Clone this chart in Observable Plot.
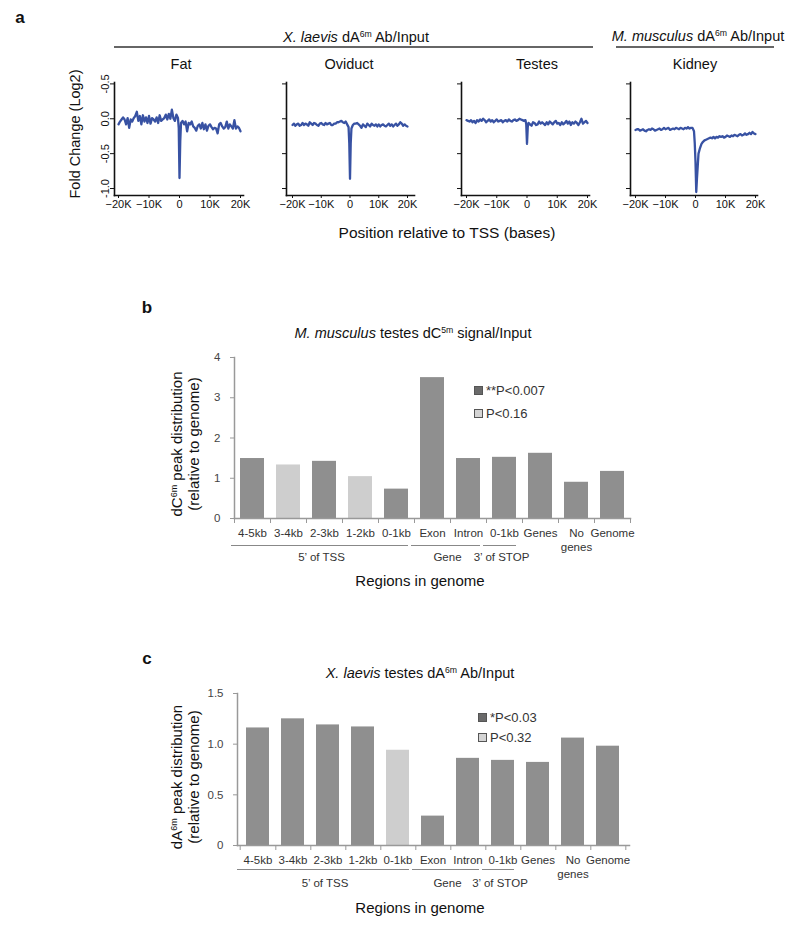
<!DOCTYPE html>
<html><head><meta charset="utf-8">
<script src="https://cdn.jsdelivr.net/npm/d3@7"></script>
<script src="https://cdn.jsdelivr.net/npm/@observablehq/plot@0.6"></script>
<style>
body{margin:0;background:#fff;font-family:Arial,"Liberation Sans",sans-serif;}
#page{position:relative;width:800px;height:929px;overflow:hidden;background:#fff;}
.t{position:absolute;white-space:nowrap;transform:translate(-50%,-50%);color:#111;line-height:1;}
.hl{position:absolute;height:1.5px;background:#666;}
.gl{position:absolute;height:1px;background:#888;}
sup{font-size:0.6em;vertical-align:0.55em;line-height:0;}
.rot{position:absolute;white-space:nowrap;transform:translate(-50%,-50%) rotate(-90deg);text-align:center;color:#111;}
.sq{position:absolute;width:7px;height:7px;}
</style></head><body><div id="page"></div>
<script>
// ---------- Panel a data (position in kb relative to TSS) ----------
const positions = [
  -20,-19.5,-19,-18.5,-18,-17.5,-17,-16.5,-16,-15.5,-15,-14.5,-14,-13.5,-13,-12.5,-12,-11.5,-11,-10.5,
  -10,-9.5,-9,-8.5,-8,-7.5,-7,-6.5,-6,-5.5,-5,-4.5,-4,-3.5,-3,-2.5,-2,-1.5,-1,-0.5,
  -0.25,0,0.25,
  0.5,1,1.5,2,2.5,3,3.5,4,4.5,5,5.5,6,6.5,7,7.5,8,8.5,9,9.5,10,
  10.5,11,11.5,12,12.5,13,13.5,14,14.5,15,15.5,16,16.5,17,17.5,18,18.5,19,19.5,20];
const fatValues = [
  -0.08,-0.04,-0.01,0.02,-0.01,-0.08,0.01,-0.13,-0.01,-0.04,
  0.01,0.04,0.10,-0.03,0.04,-0.08,0.05,-0.04,0.02,-0.06,
  0.04,-0.07,0.01,-0.01,-0.04,0.02,-0.06,0.05,-0.03,-0.01,
  0.01,0.06,-0.01,0.07,0.00,0.13,0.01,-0.03,0.06,0.01,
  -0.13,-0.85,-0.32,
  -0.06,-0.03,-0.08,-0.04,-0.18,-0.06,-0.08,-0.04,-0.11,-0.13,
  -0.17,-0.10,-0.08,-0.14,-0.06,-0.15,-0.08,-0.17,-0.10,-0.08,
  -0.12,-0.15,-0.13,-0.14,-0.21,-0.08,-0.06,-0.11,-0.14,-0.12,
  -0.04,-0.14,-0.08,-0.11,-0.14,-0.02,-0.14,-0.11,-0.13,-0.18];
const oviductValues = [
  -0.09,-0.07,-0.10,-0.08,-0.07,-0.10,-0.09,-0.06,-0.09,-0.07,
  -0.08,-0.10,-0.05,-0.07,-0.09,-0.06,-0.07,-0.09,-0.10,-0.07,
  -0.06,-0.08,-0.09,-0.06,-0.08,-0.07,-0.06,-0.09,-0.09,-0.07,
  -0.07,-0.05,-0.05,-0.04,-0.03,-0.05,-0.06,-0.04,-0.08,-0.12,
  -0.35,-0.86,-0.35,
  -0.14,-0.09,-0.07,-0.07,-0.06,-0.08,-0.10,-0.13,-0.08,-0.10,
  -0.12,-0.07,-0.09,-0.11,-0.07,-0.09,-0.10,-0.08,-0.11,-0.08,
  -0.11,-0.09,-0.08,-0.10,-0.11,-0.09,-0.07,-0.10,-0.08,-0.11,
  -0.09,-0.07,-0.10,-0.08,-0.05,-0.07,-0.10,-0.08,-0.10,-0.11];
const testesValues = [
  -0.02,-0.03,-0.04,-0.02,-0.05,-0.03,-0.06,-0.02,-0.04,-0.01,
  -0.03,0.00,-0.02,-0.05,-0.03,-0.01,-0.04,-0.02,-0.05,-0.03,
  -0.01,-0.04,-0.03,-0.02,-0.05,-0.03,-0.02,-0.04,-0.01,-0.03,
  -0.04,-0.02,-0.01,-0.03,-0.02,0.00,-0.01,-0.02,-0.03,-0.02,
  -0.08,-0.36,-0.12,
  -0.06,-0.08,-0.10,-0.05,-0.06,-0.09,-0.08,-0.04,-0.07,-0.05,
  -0.07,-0.09,-0.05,-0.08,-0.04,-0.06,-0.08,-0.05,-0.03,-0.07,
  -0.06,-0.09,-0.05,-0.08,-0.06,-0.03,-0.07,-0.04,-0.09,-0.05,
  -0.07,-0.04,-0.06,-0.09,-0.05,0.00,-0.07,-0.05,-0.03,-0.06];
const kidneyValues = [
  -0.16,-0.15,-0.15,-0.17,-0.16,-0.15,-0.17,-0.18,-0.16,-0.15,
  -0.16,-0.14,-0.15,-0.17,-0.16,-0.15,-0.14,-0.16,-0.15,-0.13,
  -0.15,-0.14,-0.13,-0.16,-0.15,-0.14,-0.15,-0.13,-0.14,-0.15,
  -0.13,-0.14,-0.15,-0.13,-0.14,-0.12,-0.14,-0.13,-0.13,-0.18,
  -0.35,-0.62,-1.05,
  -0.85,-0.50,-0.42,-0.36,-0.33,-0.31,-0.30,-0.29,-0.28,-0.27,
  -0.28,-0.26,-0.28,-0.26,-0.27,-0.25,-0.26,-0.25,-0.27,-0.26,
  -0.24,-0.25,-0.26,-0.24,-0.25,-0.23,-0.24,-0.25,-0.23,-0.22,
  -0.24,-0.23,-0.21,-0.23,-0.22,-0.20,-0.22,-0.19,-0.21,-0.22];
const aYTicks = [0.5, 0, -0.5, -1.0];
const aYTickLabels = ["-0.5", "0.0", "-0.5", "-1.0"];
const aXTicks = [-20, -10, 0, 10, 20];
const aXTickLabels = ["\u221220K", "\u221210K", "0", "10K", "20K"];
const tissues = ["Fat", "Oviduct", "Testes", "Kidney"];

// ---------- Panels b, c data ----------
const regionLabels = ["4-5kb","3-4kb","2-3kb","1-2kb","0-1kb","Exon","Intron","0-1kb","Genes","No genes","Genome"];
const bValues = [1.49,1.33,1.42,1.04,0.73,3.5,1.49,1.52,1.62,0.9,1.17];
const bLevels = ["s","ns","s","ns","s","s","s","s","s","s","s"];
const bYTicks = [0,1,2,3,4];
const cValues = [1.16,1.25,1.19,1.17,0.94,0.29,0.86,0.84,0.82,1.06,0.98];
const cLevels = ["s","s","s","s","ns","s","s","s","s","s","s"];
const cYTicks = [0,0.5,1.0,1.5];
const groups = [
  {label:"5\u2019 of TSS", from:0, to:4},
  {label:"Gene", from:5, to:6},
  {label:"3\u2019 of STOP", from:7, to:7}
];
const bLegend = ["**P<0.007", "P<0.16"];
const cLegend = ["*P<0.03", "P<0.32"];

const FONT = "Arial, 'Liberation Sans', sans-serif";
const page = document.getElementById("page");

function txt(html, x, y, size, extra = "") {
  const d = document.createElement("div");
  d.className = "t";
  d.innerHTML = html;
  d.style.cssText += `left:${x}px;top:${y}px;font-size:${size}px;${extra}`;
  page.appendChild(d);
  return d;
}
function box(cls, x, y, w, extra = "") {
  const d = document.createElement("div");
  d.className = cls;
  d.style.cssText += `left:${x}px;top:${y}px;${w != null ? `width:${w}px;` : ""}${extra}`;
  page.appendChild(d);
  return d;
}
function place(svg, left, top) {
  svg.style.position = "absolute";
  svg.style.left = left + "px";
  svg.style.top = top + "px";
  svg.style.overflow = "visible";
  page.appendChild(svg);
}

// ---------- Panel a ----------
txt("a", 20, 17, 17, "font-weight:bold;");
txt("<i>X. laevis</i> dA<sup>6m</sup> Ab/Input", 356, 37, 14.5);
box("hl", 114, 46, 479);
txt("<i>M. musculus</i> dA<sup>6m</sup> Ab/Input", 698, 36, 14.5);
box("hl", 616, 46, 158);

const aLayouts = [
  {axisX:114, xm20:118, x20:240, axisEnd:243, title:181},
  {axisX:286, xm20:292, x20:407, axisEnd:414, title:349},
  {axisX:461, xm20:466, x20:587, axisEnd:589, title:537},
  {axisX:630, xm20:635, x20:755, axisEnd:757, title:695}
];
const aSeries = [fatValues, oviductValues, testesValues, kidneyValues];

aSeries.forEach((vals, k) => {
  const L = aLayouts[k];
  const left = L.axisX - 54;
  const width = L.axisEnd - left + 6;
  const pts = positions.map((p, i) => [p, vals[i]]);
  const marks = [
    Plot.frame({anchor:"left", stroke:"#111", strokeWidth:1.6}),
    Plot.frame({anchor:"bottom", stroke:"#111", strokeWidth:1.6}),
    Plot.axisY({ticks: aYTicks, tickSize: 4, tickFormat: () => "", stroke:"#111", label:null}),
    Plot.axisX({ticks: aXTicks, tickSize: 3, tickPadding: 2, tickFormat: d => aXTickLabels[aXTicks.indexOf(d)], stroke:"#111", label:null, fontSize: 11}),
    Plot.line(pts, {stroke:"#3852a3", strokeWidth:2.3, strokeLinejoin:"round"})
  ];
  if (k === 0) {
    marks.push(Plot.text(aYTicks, {y: d => d, text: (d, i) => aYTickLabels[i], frameAnchor:"left",
      rotate:-90, textAnchor:"middle", lineAnchor:"bottom", dx:-6, fontSize:11, fill:"#111"}));
  }
  const chart = Plot.plot({
    width, height:150, marginLeft:54, marginRight:6, marginTop:12, marginBottom:25,
    x: {domain:[-20, 20], insetLeft: L.xm20 - L.axisX, insetRight: L.axisEnd - L.x20},
    y: {domain:[-1.1, 0.52]},
    style: {fontFamily: FONT, fontSize:"11px", color:"#111", background:"transparent"},
    marks
  });
  place(chart, left, 70);
  txt(tissues[k], L.title, 64, 14.5);
});
const ylA = document.createElement("div");
ylA.className = "rot";
ylA.style.cssText += "left:75px;top:134px;font-size:14.5px;";
ylA.textContent = "Fold Change (Log2)";
page.appendChild(ylA);
txt("Position relative to TSS (bases)", 447, 233, 15.5);

// ---------- Panels b and c ----------
function barPanel(opts) {
  const {values, levels, yTicks, yFmt, yMax, left, top, width, height, marginLeft, marginTop, marginBottom} = opts;
  const marginRight = 10;
  const step = (width - marginLeft - marginRight) / regionLabels.length;
  const data = values.map((v, i) => ({i, v, level: levels[i]}));
  const idx = d3.range(regionLabels.length);
  const chart = Plot.plot({
    width, height, marginLeft, marginRight, marginTop, marginBottom,
    style: {fontFamily: FONT, fontSize:"11.5px", color:"#333", background:"transparent"},
    x: {type:"band", domain: idx, paddingInner:0.33, paddingOuter:0.165},
    y: {domain:[0, yMax]},
    marks: [
      Plot.barY(data, {x:"i", y:"v", fill: d => d.level === "ns" ? "#cecece" : "#8f8f8f"}),
      Plot.frame({anchor:"bottom", stroke:"#999", strokeWidth:1.5}),
      Plot.frame({anchor:"left", stroke:"#999", strokeWidth:1.5}),
      Plot.axisY({ticks: yTicks, tickFormat: yFmt, tickSize:4, tickPadding:10, stroke:"#999", fill:"#444", label:null, fontSize:11.5}),
      Plot.axisX({tickSize:0, tickPadding:9, tickFormat: i => regionLabels[i].replace("No genes", "No\ngenes"), label:null, lineHeight:1.2, fill:"#333"}),
      Plot.axisX({tickSize:5, tickFormat: () => "", dx: step/2, stroke:"#999", label:null}),
      Plot.axisX({ticks:[0], tickSize:5, tickFormat: () => "", dx: -step/2, stroke:"#999", label:null})
    ]
  });
  place(chart, left, top);
  // group annotations under the categories, positioned from the x scale
  const sx = chart.scale("x");
  const bw = sx.bandwidth;
  const pad = (step - bw) / 2;
  groups.forEach(g => {
    const s = left + sx.apply(g.from) - pad;
    const e = left + sx.apply(g.to) + bw + pad;
    const x1 = s - 3, x2 = e - 6;
    box("gl", x1, opts.groupLineY, x2 - x1);
    txt(g.label, (x1 + x2) / 2 + 2, opts.groupLabelY, 11.5, "color:#333;");
  });
  return chart;
}
function legend(items, sqX, y1, y2) {
  const ys = [y1, y2];
  const fills = ["#6a6a6a", "#d4d4d4"];
  items.forEach((t, i) => {
    box("sq", sqX, ys[i] - 4, null, `background:${fills[i]};border:1px solid #555;`);
    const d = txt(t, 0, ys[i], 13, "color:#333;transform:translate(0,-50%);");
    d.style.left = (sqX + 12) + "px";
  });
}
function yLabel2(line1, line2, x, y) {
  const d = document.createElement("div");
  d.className = "rot";
  d.style.cssText += `left:${x}px;top:${y}px;font-size:15px;line-height:16.5px;`;
  d.innerHTML = line1 + "<br>" + line2;
  page.appendChild(d);
}

// Panel b
txt("b", 147, 307, 17, "font-weight:bold;");
txt("<i>M. musculus</i> testes dC<sup>5m</sup> signal/Input", 413, 333, 14.5);
barPanel({values:bValues, levels:bLevels, yTicks:bYTicks, yFmt: d => String(d), yMax:4,
  left:140, top:345, width:500, height:215, marginLeft:94, marginTop:12, marginBottom:42,
  groupLineY:545, groupLabelY:558});
legend(bLegend, 474, 390, 413);
yLabel2("dC<sup>6m</sup> peak distribution", "(relative to genome)", 185, 444);
txt("Regions in genome", 420, 580, 15);

// Panel c
txt("c", 147, 658, 17, "font-weight:bold;");
txt("<i>X. laevis</i> testes dA<sup>6m</sup> Ab/Input", 420, 673, 14.5);
barPanel({values:cValues, levels:cLevels, yTicks:cYTicks, yFmt: d => d === 0 ? "0" : d.toFixed(1), yMax:1.5,
  left:140, top:683, width:499, height:200, marginLeft:97, marginTop:10, marginBottom:38,
  groupLineY:869, groupLabelY:884});
legend(cLegend, 478, 717, 737);
yLabel2("dA<sup>6m</sup> peak distribution", "(relative to genome)", 185, 777);
txt("Regions in genome", 420, 907, 15);
</script></body></html>
